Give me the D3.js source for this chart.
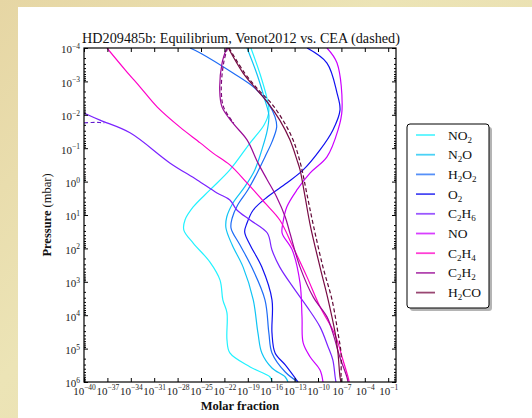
<!DOCTYPE html>
<html>
<head>
<meta charset="utf-8">
<script src="https://cdn.jsdelivr.net/npm/d3@7"></script>
<style>
  html, body { margin: 0; padding: 0; }
  body { width: 532px; height: 418px; overflow: hidden;
    background: linear-gradient(135deg, #e6d6a4 0%, #ece4b6 40%, #e9dcac 100%); }
  svg { display: block; }
</style>
</head>
<body>
<svg id="chart" width="532" height="418"></svg>
<script>
/* global d3 */

// exponents: [log10(molar fraction), log10(pressure / mbar)]
const NO2 = [[-18.6, -4.0], [-17.4, -3.2], [-16.5, -2.45], [-16.3, -2.1], [-16.9, -1.7], [-18.7, -1.16], [-21.3, -0.35], [-23.85, 0.25], [-26.0, 0.76], [-27.05, 1.15], [-27.2, 1.45], [-26.0, 1.84], [-23.85, 2.41], [-22.56, 2.95], [-22.2, 3.54], [-21.67, 3.93], [-21.67, 4.74], [-21.3, 5.13], [-18.7, 5.55], [-16.15, 5.85], [-15.9, 6.0]]
const N2O = [[-19.1, -4.0], [-17.8, -3.2], [-16.8, -2.44], [-16.3, -1.99], [-16.5, -1.54], [-17.2, -0.95], [-18.1, -0.35], [-19.4, 0.16], [-20.9, 0.64], [-21.7, 1.06], [-21.8, 1.39], [-21.0, 1.9], [-19.6, 2.56], [-18.3, 3.54], [-17.7, 4.53], [-17.2, 5.13], [-15.9, 5.58], [-14.2, 5.85], [-13.85, 6.0]]
const H2O2 = [[-26.4, -4.0], [-25.1, -3.85], [-20.9, -3.25], [-18.1, -2.8], [-16.4, -2.35], [-15.5, -1.93], [-15.3, -1.63], [-15.9, -1.19], [-16.8, -0.74], [-17.8, -0.26], [-19.0, 0.25], [-20.3, 0.7], [-21.0, 1.09], [-21.15, 1.39], [-20.0, 1.9], [-18.5, 2.56], [-16.8, 3.54], [-16.3, 4.53], [-15.9, 5.13], [-14.2, 5.7], [-12.56, 6.0]]
const O2 = [[-11.4, -4.0], [-8.85, -3.55], [-7.56, -2.65], [-7.18, -2.14], [-8.1, -1.54], [-9.74, -0.95], [-11.9, -0.35], [-14.0, 0.04], [-16.5, 0.46], [-18.3, 0.85], [-19.1, 1.24], [-19.4, 1.51], [-18.7, 1.9], [-17.2, 2.56], [-15.9, 3.54], [-15.9, 4.53], [-15.5, 5.13], [-14.2, 5.49], [-12.56, 6.0]]
const C2H6 = [[-40, -2.05], [-37.95, -1.84], [-34.1, -1.46], [-29.0, -0.56], [-25.5, -0.05], [-22.95, 0.34], [-21.3, 0.55], [-20.4, 0.85], [-18.7, 1.15], [-16.5, 1.54], [-15.9, 2.05], [-14.9, 2.56], [-13.2, 3.16], [-11.4, 3.75], [-9.74, 4.35], [-8.7, 4.95], [-8.1, 5.34], [-7.8, 5.85], [-7.7, 6.0]]
const NO = [[-8.85, -4.0], [-7.56, -3.55], [-6.92, -2.14], [-7.44, -1.54], [-8.85, -0.74], [-11.0, -0.26], [-12.7, 0.25], [-14.0, 0.76], [-14.5, 1.24], [-14.6, 1.54], [-13.3, 2.05], [-12.3, 3.04], [-12.05, 4.05], [-11.9, 4.83], [-11.0, 5.25], [-9.74, 5.64], [-9.36, 6.0]]
const C2H4 = [[-37.05, -4.0], [-34.7, -3.34], [-32.8, -2.83], [-30.6, -2.23], [-27.7, -1.63], [-25.1, -1.16], [-23.5, -0.86], [-21.3, -0.5], [-19.1, 0.04], [-16.8, 0.64], [-14.9, 1.15], [-13.2, 1.96], [-11.4, 2.86], [-9.74, 3.75], [-8.1, 4.44], [-7.56, 4.74], [-6.8, 5.34], [-6.15, 5.85], [-6.0, 6.0]]
const C2H2 = [[-21.7, -4.0], [-22.3, -3.55], [-22.6, -2.74], [-22.3, -2.23], [-20.9, -1.75], [-19.1, -1.25], [-17.7, -0.56], [-16.5, -0.05], [-15.3, 0.46], [-14.2, 1.06], [-13.6, 1.54], [-12.3, 2.56], [-10.6, 3.46], [-8.85, 4.05], [-8.1, 4.53], [-7.2, 5.25], [-6.3, 5.85], [-6.15, 6.0]]
const H2CO = [[-21.5, -4.0], [-19.6, -3.25], [-17.8, -2.74], [-16.4, -2.35], [-14.9, -1.84], [-13.6, -1.25], [-12.7, -0.65], [-12.3, -0.35], [-11.7, 0.4], [-11.0, 1.3], [-9.74, 2.56], [-8.7, 3.54], [-7.8, 4.53], [-7.44, 5.13], [-7.18, 5.85], [-7.05, 6.0]]

// CEA curves (dashed), only where they separate from the Venot2012 ones
const C2H6_CEA = [[-40, -1.76], [-39, -1.77], [-38, -1.77], [-37.4, -1.76]]
const C2H2_CEA = [[-21.6, -4.0], [-22.1, -3.55], [-22.4, -2.74], [-22.1, -2.23], [-20.8, -1.75]]
const H2CO_CEA = [[-21.4, -4.0], [-19.4, -3.25], [-17.6, -2.74], [-16.0, -2.35], [-14.5, -1.84], [-13.2, -1.25], [-12.2, -0.5], [-11.4, 0.4], [-10.6, 1.3], [-9.36, 2.56], [-8.2, 3.54], [-7.44, 4.53], [-7.05, 5.13], [-7.05, 5.85], [-7.05, 6.0]]

const SPECIES = ['NO2', 'N2O', 'H2O2', 'O2', 'C2H6', 'NO', 'C2H4', 'C2H2', 'H2CO']
const PROFILES = [NO2, N2O, H2O2, O2, C2H6, NO, C2H4, C2H2, H2CO]
const CEA_PROFILES = [
  { species: 'C2H6', values: C2H6_CEA },
  { species: 'C2H2', values: C2H2_CEA },
  { species: 'H2CO', values: H2CO_CEA }
]
const COLORS = ['#22f2ff', '#10c4f4', '#1e6cf6', '#1010f0', '#7a22ff', '#cc00ff', '#ff00c8', '#9a0a96', '#780a44']

const X_TICK_EXP = [-40, -37, -34, -31, -28, -25, -22, -19, -16, -13, -10, -7, -4, -1]
const Y_TICK_EXP = [-4, -3, -2, -1, 0, 1, 2, 3, 4, 5, 6]

const TITLE = 'HD209485b: Equilibrium, Venot2012 vs. CEA (dashed)'
const FONT = '"Liberation Serif", "DejaVu Serif", serif'
const M = { left: 84, right: 396, top: 48, bottom: 382 }

const svg = d3.select('#chart')

svg.append('rect') // panneau blanc
  .attr('x', 18).attr('y', 7).attr('width', 532 - 18).attr('height', 418 - 7)
  .attr('fill', '#ffffff')

const x = d3.scaleLog().domain([1e-40, 1]).range([M.left, M.right])
const y = d3.scaleLog().domain([1e-4, 1e6]).range([M.top, M.bottom])

const clip = svg.append('clipPath').attr('id', 'plotclip')
clip.append('rect')
  .attr('x', M.left).attr('y', M.top)
  .attr('width', M.right - M.left).attr('height', M.bottom - M.top)

const line = d3.line()
  .x(d => x(10 ** d[0]))
  .y(d => y(10 ** d[1]))
  .curve(d3.curveCatmullRom.alpha(0.5))

const plot = svg.append('g').attr('clip-path', 'url(#plotclip)')

plot.selectAll('path.ven')
  .data(PROFILES)
  .join('path')
  .attr('class', 'ven')
  .attr('d', line)
  .attr('fill', 'none')
  .attr('stroke', (d, i) => COLORS[i])
  .attr('stroke-width', 1.2)

plot.selectAll('path.cea')
  .data(CEA_PROFILES)
  .join('path')
  .attr('class', 'cea')
  .attr('d', d => line(d.values))
  .attr('fill', 'none')
  .attr('stroke', d => d3.color(COLORS[SPECIES.indexOf(d.species)]).darker(0.6))
  .attr('stroke-width', 1.2)
  .attr('stroke-dasharray', '4,2.5')

// axes (ticks vers l'interieur)
const xt = X_TICK_EXP.map(e => 10 ** e)
const yt = Y_TICK_EXP.map(e => 10 ** e)
const yMinor = []
Y_TICK_EXP.slice(0, -1).forEach(e => { for (let k = 2; k < 10; k++) yMinor.push(k * 10 ** e) })

function styleAxis (g) {
  g.select('.domain').remove()
  g.selectAll('.tick line').attr('stroke', '#000').attr('stroke-width', 1)
}

function supLabel (sel, exp) {
  sel.text(null)
  sel.append('tspan').text('10')
  sel.append('tspan')
    .attr('font-size', 7.5)
    .attr('dy', -4.5)
    .text(exp < 0 ? '\u2212' + (-exp) : String(exp))
}

svg.append('g')
  .attr('transform', `translate(0,${M.bottom})`)
  .call(d3.axisBottom(x).tickValues(xt).tickSize(-4).tickPadding(4).tickFormat(''))
  .call(styleAxis)
  .call(g => g.selectAll('.tick text')
    .attr('font-family', FONT).attr('font-size', 11).attr('fill', '#222')
    .attr('dy', '0.8em')
    .each(function (d, i) { supLabel(d3.select(this), X_TICK_EXP[i]) }))

svg.append('g')
  .attr('transform', `translate(0,${M.top})`)
  .call(d3.axisTop(x).tickValues(xt).tickSize(-4).tickFormat(''))
  .call(styleAxis)

svg.append('g')
  .attr('transform', `translate(${M.left},0)`)
  .call(d3.axisLeft(y).tickValues(yt).tickSize(-4).tickPadding(4).tickFormat(''))
  .call(styleAxis)
  .call(g => g.selectAll('.tick text')
    .attr('font-family', FONT).attr('font-size', 11).attr('fill', '#222')
    .attr('dy', '0.45em')
    .each(function (d, i) { supLabel(d3.select(this), Y_TICK_EXP[i]) }))

svg.append('g')
  .attr('transform', `translate(${M.right},0)`)
  .call(d3.axisRight(y).tickValues(yt).tickSize(-4).tickFormat(''))
  .call(styleAxis)

svg.append('g')
  .attr('transform', `translate(${M.left},0)`)
  .call(d3.axisLeft(y).tickValues(yMinor).tickSize(-2).tickFormat(''))
  .call(styleAxis)

svg.append('g')
  .attr('transform', `translate(${M.right},0)`)
  .call(d3.axisRight(y).tickValues(yMinor).tickSize(-2).tickFormat(''))
  .call(styleAxis)

svg.append('rect') // cadre
  .attr('x', M.left).attr('y', M.top)
  .attr('width', M.right - M.left).attr('height', M.bottom - M.top)
  .attr('fill', 'none').attr('stroke', '#000').attr('stroke-width', 1.2)

svg.append('text')
  .attr('x', (M.left + M.right) / 2 + 1).attr('y', 43)
  .attr('text-anchor', 'middle')
  .attr('font-family', FONT).attr('font-size', 14.2).attr('fill', '#111')
  .text(TITLE)

svg.append('text')
  .attr('x', (M.left + M.right) / 2).attr('y', 410)
  .attr('text-anchor', 'middle')
  .attr('font-family', FONT).attr('font-size', 12.5).attr('font-weight', 'bold').attr('fill', '#111')
  .text('Molar fraction')

const yl = svg.append('text')
  .attr('transform', `translate(51,${(M.top + M.bottom) / 2}) rotate(-90)`)
  .attr('text-anchor', 'middle')
  .attr('font-family', FONT).attr('font-size', 12.5).attr('fill', '#111')
yl.append('tspan').attr('font-weight', 'bold').text('Pressure ')
yl.append('tspan').text('(mbar)')

// legende
const LG = { x: 407, y: 124, w: 82, h: 184, row: 19.7 }
const legend = svg.append('g')
legend.append('rect')
  .attr('x', LG.x + 3).attr('y', LG.y + 3).attr('width', LG.w).attr('height', LG.h)
  .attr('rx', 3).attr('fill', '#777').attr('opacity', 0.55)
legend.append('rect')
  .attr('x', LG.x).attr('y', LG.y).attr('width', LG.w).attr('height', LG.h)
  .attr('rx', 3).attr('fill', '#fff').attr('stroke', '#000').attr('stroke-width', 1)

const entries = legend.selectAll('g.entry')
  .data(SPECIES)
  .join('g')
  .attr('class', 'entry')
  .attr('transform', (d, i) => `translate(${LG.x},${LG.y + 11 + i * LG.row})`)

entries.append('line')
  .attr('x1', 9).attr('x2', 28).attr('y1', 0).attr('y2', 0)
  .attr('stroke', (d, i) => COLORS[i]).attr('stroke-width', 1.8).attr('opacity', 0.75)

entries.append('text')
  .attr('x', 41).attr('y', 4.5)
  .attr('font-family', FONT).attr('font-size', 13.5).attr('fill', '#111')
  .each(function (d) {
    const t = d3.select(this)
    let shift = 0 // decalage vertical en attente apres un indice
    for (const m of d.matchAll(/([A-Z][a-z]?)(\d*)/g)) {
      t.append('tspan').attr('dy', shift).text(m[1])
      shift = 0
      if (m[2]) {
        t.append('tspan').attr('font-size', 9).attr('dy', 3).text(m[2])
        shift = -3
      }
    }
  })
</script>
</body>
</html>
